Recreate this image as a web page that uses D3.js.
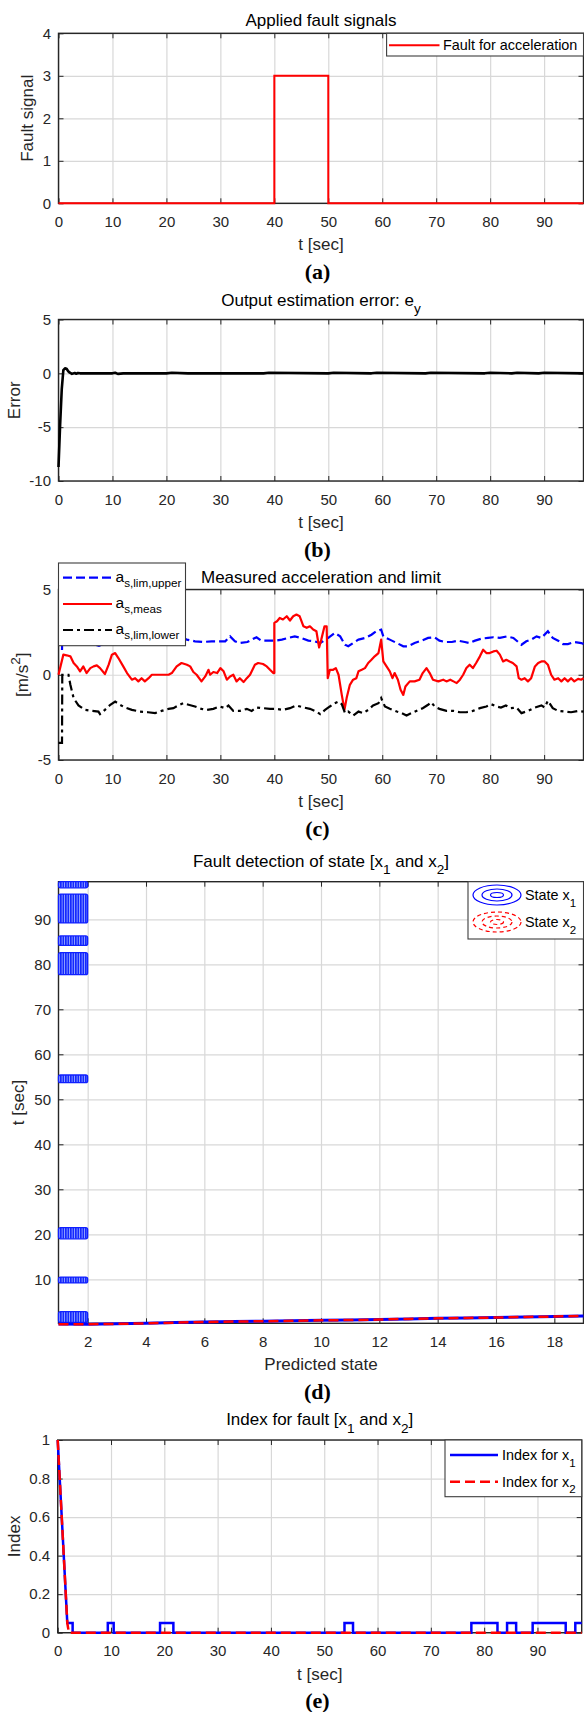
<!DOCTYPE html>
<html><head><meta charset="utf-8">
<script src="https://cdn.jsdelivr.net/npm/d3@7"></script>
<style>
html,body{margin:0;padding:0;background:#fff;}
svg{display:block;}
</style></head><body>
<script>
// ---------------- DATA ----------------
const timeTicks = [0,10,20,30,40,50,60,70,80,90];
const faultTicks = [0,1,2,3,4];
const errorTicks = [-10,-5,0,5];
const accTicks = [-5,0,5];
const stateTicks = [2,4,6,8,10,12,14,16,18];
const detTimeTicks = [10,20,30,40,50,60,70,80,90];
const indexTicks = [0,0.2,0.4,0.6,0.8,1];

// (a) applied fault
const faultTime  = [0, 40, 40, 50, 50, 97.3];
const faultValue = [0, 0, 3, 3, 0, 0];

// (b) output estimation error
const errorTime  = [0, 0.3, 0.6, 0.9, 1.2, 1.5, 1.8, 2.1, 2.5, 3, 3.3, 3.6, 4, 10, 10.5, 11, 12, 20, 21, 24, 30, 38, 39, 50, 51, 58, 59, 68, 69, 79, 80, 84, 85, 89, 90, 97.3];
const errorValue = [-8.7, -4.8, -1.5, 0.3, 0.46, 0.42, 0.2, 0.06, -0.05, 0.03, -0.04, 0.03, 0, 0, 0.06, -0.05, 0, 0, 0.05, 0, 0, 0, 0.05, 0, 0.05, 0, 0.06, 0, 0.05, 0, 0.06, 0, 0.05, 0, 0.05, 0];

// (c) measured acceleration and limits
const upperTime = [0.65,0.7,2,4,6,7.5,9,10.5,12,14,16,18,20,21.5,22.5,23.8,25.3,26.8,28.4,29.6,30.9,31.8,32.7,33.6,35.0,35.8,36.7,37.6,38.9,40.1,41.4,42.6,43.8,45.0,46.3,47.5,48.5,50.0,51.2,52.2,53.1,53.7,54.6,55.6,56.8,58.0,58.9,59.8,60.2,61.4,62.7,63.9,64.8,66.0,67.3,68.5,69.7,70.6,71.6,72.9,74.1,75.3,76.2,77.2,78.4,79.6,80.6,81.8,83.1,84.3,85.8,86.7,87.6,88.6,89.5,90.7,91.6,92.6,93.5,94.4,95.6,96.9,97.3];
const upperValue = [1.45,2.4,2.3,2.0,1.85,1.7,1.9,2.35,2.1,1.95,1.85,1.8,1.95,2.05,2.2,2.06,1.96,1.92,1.96,1.96,1.96,2.25,1.96,1.86,1.92,2.06,2.2,2.0,2.0,2.0,2.06,2.16,2.25,2.16,2.0,1.96,1.86,2.16,2.45,2.25,1.76,1.67,1.86,2.06,2.16,2.35,2.55,2.65,2.25,2.06,1.86,1.67,1.67,1.86,2.0,2.16,2.2,2.0,1.92,1.92,2.0,1.92,1.86,2.0,2.12,2.16,2.2,2.16,2.25,2.16,1.76,1.96,2.06,2.25,2.16,2.55,2.16,2.0,1.8,1.8,1.92,1.86,1.8];

const measTime = [0,0.9,1.5,2.2,2.8,3.4,4.0,4.6,5.2,5.9,6.5,7.1,7.7,8.6,9.3,9.9,10.5,11.1,12.0,12.7,13.6,14.2,14.8,15.4,16.0,16.7,17.3,20.4,21.0,21.9,22.8,23.8,24.4,25.0,25.6,26.5,27.2,27.8,28.1,28.7,29.4,30.0,30.6,31.2,31.8,32.4,33.0,33.6,34.3,34.9,35.5,36.4,37.0,37.9,38.6,39.2,39.8,40.0,40.0,40.5,41.0,41.6,42.3,42.9,43.5,44.1,44.7,45.4,46.0,46.6,47.2,47.8,48.3,48.7,49.3,49.7,49.9,50.3,50.9,51.4,51.9,52.5,53.0,53.4,54.0,54.6,55.2,55.6,56.2,56.8,57.4,58.0,58.6,59.3,59.8,60.2,60.8,61.4,61.9,62.3,62.9,63.4,63.9,64.3,65.1,66.0,66.9,67.5,68.2,68.8,69.4,70.4,71.3,71.9,72.6,73.2,73.8,74.4,75.0,75.6,76.2,76.8,77.4,78.1,78.7,79.3,79.9,80.6,81.2,81.8,82.4,83.0,83.6,84.2,84.9,85.3,85.8,86.4,87.0,87.6,88.3,88.9,89.5,90.1,90.7,91.3,91.9,92.6,93.2,93.8,94.4,95.0,95.6,96.3,96.9,97.3];
const measValue = [0,1.18,1.14,1.08,0.69,0.49,0.2,0.49,0.1,0.39,0.49,0.55,0.39,0.04,0.59,1.18,1.27,0.98,0.49,0.1,-0.29,-0.2,-0.39,-0.2,-0.39,-0.2,0,0,0.1,0.49,0.69,0.59,0.49,0.16,0,-0.39,-0.1,0.29,0,0.16,0.1,0.39,0.2,-0.29,-0.1,0,-0.39,-0.2,-0.43,-0.2,0,0.59,0.69,0.63,0.49,0.29,0.1,0.1,3.04,3.14,3.33,3.24,3.43,3.18,3.43,3.53,3.43,2.84,2.75,2.84,2.65,2.55,1.6,2.06,2.84,2.84,-0.2,0.29,0.29,0.39,0,-1.18,-2.06,-1.37,-0.59,-0.29,-0.2,0.2,0.29,0.39,0.69,0.88,1.08,1.27,2.06,0.78,0.49,0.2,-0.2,0.1,-0.29,-0.88,-1.18,-0.69,-0.39,-0.39,-0.29,0.1,0.39,0.1,-0.29,-0.39,-0.29,-0.39,-0.29,-0.39,-0.49,-0.29,0,0.39,0.59,0.39,0.69,1.08,1.47,1.27,1.27,1.37,1.41,1.18,0.78,0.88,0.78,0.69,0.49,-0.2,-0.29,-0.2,-0.39,-0.2,0.49,0.69,0.78,0.78,0.59,0,-0.29,-0.2,-0.39,-0.2,-0.39,-0.2,-0.39,-0.24,-0.29,-0.2];

const lowerTime = [0,0.65,0.7,1.85,2.2,2.8,3.7,4.9,6.2,7.4,7.7,8.6,9.6,10.5,11.4,12.3,13.6,15.1,16.6,17.9,19.1,20.4,21.3,22.2,23.1,24.1,25.3,26.5,27.5,28.7,29.9,30.9,31.5,32.4,33.6,34.9,35.8,36.7,37.9,39.2,40.4,41.6,42.9,44.1,45.4,46.6,47.8,48.5,49.4,50.3,51.2,51.9,52.5,53.1,53.7,54.6,55.6,56.5,57.4,58.3,59.3,59.8,60.5,61.4,62.7,63.6,64.5,65.4,66.3,67.5,68.5,69.1,69.7,70.6,71.9,73.2,74.4,75.6,76.8,78.1,79.3,80.2,81.2,82.0,82.9,83.8,84.9,85.8,87.0,88.3,89.5,90.1,90.7,91.6,92.6,93.8,95.0,96.3,97.3];
const lowerValue = [-4.0,-4.0,0,0,-0.59,-1.37,-1.8,-2.06,-2.12,-2.16,-2.31,-2.06,-1.76,-1.57,-1.76,-1.92,-2.06,-2.16,-2.2,-2.25,-2.12,-2.0,-1.96,-1.8,-1.67,-1.76,-1.86,-2.0,-2.06,-2.0,-1.86,-1.96,-1.8,-2.12,-2.12,-2.0,-2.12,-1.92,-1.96,-2.0,-2.0,-2.06,-1.96,-1.8,-1.92,-2.0,-2.16,-2.31,-2.06,-1.86,-1.67,-1.57,-1.73,-2.25,-2.16,-2.39,-2.16,-2.25,-2.06,-1.8,-1.67,-1.37,-1.86,-2.0,-2.16,-2.25,-2.39,-2.25,-2.12,-1.96,-1.76,-1.61,-1.86,-2.0,-2.12,-2.12,-2.2,-2.2,-2.12,-1.96,-1.86,-1.73,-1.86,-1.92,-1.8,-1.96,-1.92,-2.25,-2.12,-1.92,-1.8,-1.92,-1.53,-1.96,-2.12,-2.16,-2.2,-2.12,-2.16];

// (d) fault detection of state
const predictedState = [1,2,3,4,5,6,7,8,9,10,11,12,13,14,15,16,17,18,19];
const stateX1Time = [0.05,0.0,0.1,0.22,0.38,0.52,0.6,0.67,0.78,0.89,0.95,1.04,1.2,1.34,1.42,1.49,1.62,1.71,1.86];
const stateX2Time = [0.02,0.0,0.1,0.21,0.37,0.52,0.6,0.68,0.78,0.88,0.95,1.05,1.2,1.33,1.42,1.5,1.62,1.72,1.87];
const bandStateRange = [1, 2];
const bandStart = [0.4, 9.2, 19.0, 53.7, 77.7, 84.2, 89.2, 97.0];
const bandEnd   = [2.8, 10.5, 21.5, 55.4, 82.6, 86.3, 95.6, 98.36];

// (e) index for fault
const indexX1Time  = [0,1.8,2.8,2.8,9.4,9.4,10.5,10.5,19.2,19.2,21.7,21.7,53.8,53.8,55.4,55.4,77.6,77.6,82.5,82.5,84.3,84.3,86.0,86.0,89.1,89.1,95.3,95.3,97.1,97.1,98.3];
const indexX1Value = [1,0.05,0.05,0,0,0.05,0.05,0,0,0.05,0.05,0,0,0.05,0.05,0,0,0.05,0.05,0,0,0.05,0.05,0,0,0.05,0.05,0,0,0.05,0.05];
const indexX2Time  = [0,1.8,2.1,98.3];
const indexX2Value = [1,0.05,0,0];

// ---------------- DRAWING ----------------
const FONT = '"Liberation Sans",Arial,Helvetica,sans-serif';
const SERIF = '"Liberation Serif","Times New Roman",serif';
const AX = "#262626";
const svg = d3.select("body").append("svg").attr("width",584).attr("height",1712)
  .style("font-family",FONT);

const defs = svg.append("defs");
const pat = defs.append("pattern").attr("id","stripes").attr("patternUnits","userSpaceOnUse")
  .attr("width",2.5).attr("height",10);
pat.append("rect").attr("width",2.5).attr("height",10).attr("fill","#1428ff");
pat.append("rect").attr("x",1.7).attr("width",0.8).attr("height",10).attr("fill","#9fb0ff");

function rich(sel, parts, size, subScale=0.78, subShift=0.42, subSize){
  let off = 0;
  parts.forEach(p => {
    let kind = "n", txt = p;
    if (typeof p !== "string") { if (p.sub !== undefined) { kind="sub"; txt=p.sub; } else { kind="sup"; txt=p.sup; } }
    const target = kind==="sub" ? size*subShift : kind==="sup" ? -size*0.45 : 0;
    const fs = kind==="n" ? size : (subSize || size*subScale);
    sel.append("tspan").attr("dy", target-off).attr("font-size",fs).text(txt);
    off = target;
  });
}

function makePanel(c){
  const g = svg.append("g");
  const x = d3.scaleLinear().domain(c.xDomain).range([c.left, c.right]);
  const y = d3.scaleLinear().domain(c.yDomain).range([c.bottom, c.top]);
  const w = c.right - c.left, h = c.bottom - c.top;
  // grid
  const gx = g.append("g").attr("transform",`translate(0,${c.bottom})`)
    .call(d3.axisBottom(x).tickValues(c.xTicks).tickSize(-h).tickFormat(""));
  gx.select(".domain").remove();
  gx.selectAll("line").attr("stroke","#d8d8d8").attr("stroke-width",1.2);
  const gy = g.append("g").attr("transform",`translate(${c.left},0)`)
    .call(d3.axisLeft(y).tickValues(c.yTicks).tickSize(-w).tickFormat(""));
  gy.select(".domain").remove();
  gy.selectAll("line").attr("stroke","#d8d8d8").attr("stroke-width",1.2);
  // box
  g.append("rect").attr("x",c.left).attr("y",c.top).attr("width",w).attr("height",h)
    .attr("fill","none").attr("stroke",AX).attr("stroke-width",1.4);
  const fmt = d => String(d);
  const styleAxis = s => { s.select(".domain").remove(); s.attr("font-size",15).attr("font-family",FONT).attr("color",AX);
    s.selectAll("line").attr("stroke-width",1); };
  g.append("g").attr("transform",`translate(0,${c.bottom})`)
    .call(d3.axisBottom(x).tickValues(c.xTicks).tickSizeInner(-5).tickSizeOuter(0).tickPadding(13).tickFormat(fmt)).call(styleAxis);
  g.append("g").attr("transform",`translate(0,${c.top})`)
    .call(d3.axisTop(x).tickValues(c.xTicks).tickSizeInner(-5).tickSizeOuter(0).tickFormat("")).call(styleAxis);
  g.append("g").attr("transform",`translate(${c.left},0)`)
    .call(d3.axisLeft(y).tickValues(c.yTicks).tickSizeInner(-5).tickSizeOuter(0).tickPadding(7.5).tickFormat(fmt)).call(styleAxis);
  g.append("g").attr("transform",`translate(${c.right},0)`)
    .call(d3.axisRight(y).tickValues(c.yTicks).tickSizeInner(-5).tickSizeOuter(0).tickFormat("")).call(styleAxis);
  // title
  const cx = (c.left + c.right)/2;
  const t = g.append("text").attr("x",cx).attr("y",c.titleY).attr("text-anchor","middle")
    .attr("font-size",17).attr("fill","#000");
  rich(t, c.title, 17, 0.8, 0.45);
  // x label
  g.append("text").attr("x",cx).attr("y",c.bottom+47).attr("text-anchor","middle")
    .attr("font-size",17).attr("fill",AX).text(c.xLabel);
  // y label
  const yl = g.append("text").attr("transform",`translate(${c.yLabelX},${(c.top+c.bottom)/2}) rotate(-90)`)
    .attr("text-anchor","middle").attr("font-size",17).attr("fill",AX);
  rich(yl, c.yLabel, 17, 0.8, 0.45);
  // caption
  g.append("text").attr("x",317.5).attr("y",c.bottom+75.5).attr("text-anchor","middle")
    .style("font-family",SERIF).attr("font-weight","bold")
    .attr("font-size",22).attr("fill","#000").text(c.caption);
  return {g,x,y};
}

function lineOf(x, y, ts, vs){
  return d3.line().x((d,i)=>x(ts[i])).y((d,i)=>y(vs[i]))(ts);
}

function legendBox(g, x0, y0, x1, y1){
  g.append("rect").attr("x",x0).attr("y",y0).attr("width",x1-x0).attr("height",y1-y0)
    .attr("fill","#fff").attr("stroke","#3c3c3c").attr("stroke-width",1.1);
}
function legendText(g, x, y, parts, subScale, subShift, size=14.4, subSize){
  const t = g.append("text").attr("x",x).attr("y",y).attr("font-size",size).attr("fill","#000");
  rich(t, parts, size, subScale, subShift, subSize);
}

// ---------- Panel (a) ----------
{
  const p = makePanel({left:58.5,right:583.5,top:33.3,bottom:203.3,xDomain:[0,97.3],yDomain:[0,4],
    xTicks:timeTicks,yTicks:faultTicks,titleY:25.5,title:["Applied fault signals"],
    xLabel:"t [sec]",yLabel:["Fault signal"],yLabelX:32.7,caption:"(a)"});
  p.g.append("path").attr("d",lineOf(p.x,p.y,faultTime,faultValue)).attr("fill","none")
    .attr("stroke","#ff0000").attr("stroke-width",2);
  legendBox(p.g,386.6,33.3,583.5,56);
  p.g.append("line").attr("x1",389).attr("x2",439.5).attr("y1",45.3).attr("y2",45.3).attr("stroke","#ff0000").attr("stroke-width",2);
  legendText(p.g,443,50.3,["Fault for acceleration"]);
}

// ---------- Panel (b) ----------
{
  const p = makePanel({left:58.5,right:583.5,top:319.5,bottom:481,xDomain:[0,97.3],yDomain:[-10,5],
    xTicks:timeTicks,yTicks:errorTicks,titleY:305.5,title:["Output estimation error: e",{sub:"y"}],
    xLabel:"t [sec]",yLabel:["Error"],yLabelX:19.6,caption:"(b)"});
  p.g.append("path").attr("d",lineOf(p.x,p.y,errorTime,errorValue)).attr("fill","none")
    .attr("stroke","#000").attr("stroke-width",2.6).attr("stroke-linejoin","round");
}

// ---------- Panel (c) ----------
{
  const p = makePanel({left:58.5,right:583.5,top:589.5,bottom:760,xDomain:[0,97.3],yDomain:[-5,5],
    xTicks:timeTicks,yTicks:accTicks,titleY:583.2,title:["Measured acceleration and limit"],
    xLabel:"t [sec]",yLabel:["[m/s",{sup:"2"},"]"],yLabelX:28,caption:"(c)"});
  p.g.append("path").attr("d",lineOf(p.x,p.y,upperTime,upperValue)).attr("fill","none")
    .attr("stroke","#0000ff").attr("stroke-width",2.2).attr("stroke-dasharray","9,4");
  p.g.append("path").attr("d",lineOf(p.x,p.y,measTime,measValue)).attr("fill","none")
    .attr("stroke","#ff0000").attr("stroke-width",2.2).attr("stroke-linejoin","round");
  p.g.append("path").attr("d",lineOf(p.x,p.y,lowerTime,lowerValue)).attr("fill","none")
    .attr("stroke","#000").attr("stroke-width",2.2).attr("stroke-dasharray","10,4,3,4");
  legendBox(p.g,58.5,563,185.5,645.7);
  const rows = [577.7,604,630];
  p.g.append("line").attr("x1",63).attr("x2",112).attr("y1",rows[0]).attr("y2",rows[0]).attr("stroke","#0000ff").attr("stroke-width",2.2).attr("stroke-dasharray","9,4");
  p.g.append("line").attr("x1",63).attr("x2",112).attr("y1",rows[1]).attr("y2",rows[1]).attr("stroke","#ff0000").attr("stroke-width",2.2);
  p.g.append("line").attr("x1",63).attr("x2",112).attr("y1",rows[2]).attr("y2",rows[2]).attr("stroke","#000").attr("stroke-width",2.2).attr("stroke-dasharray","10,4,3,4");
  legendText(p.g,115.5,rows[0]+3.8,["a",{sub:"s,lim,upper"}],0.75,0.33,15.5,11.7);
  legendText(p.g,115.5,rows[1]+3.8,["a",{sub:"s,meas"}],0.75,0.33,15.5,11.7);
  legendText(p.g,115.5,rows[2]+3.8,["a",{sub:"s,lim,lower"}],0.75,0.33,15.5,11.7);
}

// ---------- Panel (d) ----------
{
  const p = makePanel({left:58.5,right:583.5,top:881.7,bottom:1323.3,xDomain:[1,19],yDomain:[0.22,98.36],
    xTicks:stateTicks,yTicks:detTimeTicks,titleY:866.5,title:["Fault detection of state [x",{sub:"1"}," and x",{sub:"2"},"]"],
    xLabel:"Predicted state",yLabel:["t [sec]"],yLabelX:24,caption:"(d)"});
  const bg = p.g.append("g");
  bandStart.forEach((s,i) => {
    const x0 = p.x(bandStateRange[0]), x1 = p.x(bandStateRange[1]);
    const y0 = p.y(bandEnd[i]), y1 = p.y(bandStart[i]);
    bg.append("rect").attr("x",x0).attr("y",y0).attr("width",x1-x0).attr("height",y1-y0)
      .attr("rx",2).attr("fill","url(#stripes)").attr("stroke","#1020ff").attr("stroke-width",1.3);
  });
  p.g.append("path").attr("d",lineOf(p.x,p.y,predictedState,stateX1Time)).attr("fill","none")
    .attr("stroke","#0000ff").attr("stroke-width",3);
  p.g.append("path").attr("d",lineOf(p.x,p.y,predictedState,stateX2Time)).attr("fill","none")
    .attr("stroke","#ff0000").attr("stroke-width",2.5).attr("stroke-dasharray","10,5");
  legendBox(p.g,468,881.7,583.5,939);
  const rows = [895,922];
  const radii = [[24,10],[15,6],[6.5,2.5]];
  radii.forEach(r => {
    p.g.append("ellipse").attr("cx",497).attr("cy",rows[0]).attr("rx",r[0]).attr("ry",r[1]).attr("fill","none").attr("stroke","#0000ff").attr("stroke-width",1.2);
    p.g.append("ellipse").attr("cx",497).attr("cy",rows[1]).attr("rx",r[0]).attr("ry",r[1]).attr("fill","none").attr("stroke","#ff0000").attr("stroke-width",1.2).attr("stroke-dasharray","4,3");
  });
  legendText(p.g,525,rows[0]+5,["State x",{sub:"1"}],0.8,0.46);
  legendText(p.g,525,rows[1]+5,["State x",{sub:"2"}],0.8,0.46);
}

// ---------- Panel (e) ----------
{
  const p = makePanel({left:57.7,right:581.7,top:1440,bottom:1632.7,xDomain:[0,98.3],yDomain:[0,1],
    xTicks:timeTicks,yTicks:indexTicks,titleY:1424.9,title:["Index for fault [x",{sub:"1"}," and x",{sub:"2"},"]"],
    xLabel:"t [sec]",yLabel:["Index"],yLabelX:19.6,caption:"(e)"});
  p.g.append("path").attr("d",lineOf(p.x,p.y,indexX1Time,indexX1Value)).attr("fill","none")
    .attr("stroke","#0000ff").attr("stroke-width",2.5);
  p.g.append("path").attr("d",lineOf(p.x,p.y,indexX2Time,indexX2Value)).attr("fill","none")
    .attr("stroke","#ff0000").attr("stroke-width",2.5).attr("stroke-dasharray","10,5");
  legendBox(p.g,445,1440,581.7,1496.7);
  const rows = [1455,1481.7];
  p.g.append("line").attr("x1",450).attr("x2",498).attr("y1",rows[0]).attr("y2",rows[0]).attr("stroke","#0000ff").attr("stroke-width",2.5);
  p.g.append("line").attr("x1",450).attr("x2",498).attr("y1",rows[1]).attr("y2",rows[1]).attr("stroke","#ff0000").attr("stroke-width",2.5).attr("stroke-dasharray","10,5");
  legendText(p.g,502,rows[0]+5,["Index for x",{sub:"1"}],0.8,0.46);
  legendText(p.g,502,rows[1]+5,["Index for x",{sub:"2"}],0.8,0.46);
}
</script>
</body></html>
